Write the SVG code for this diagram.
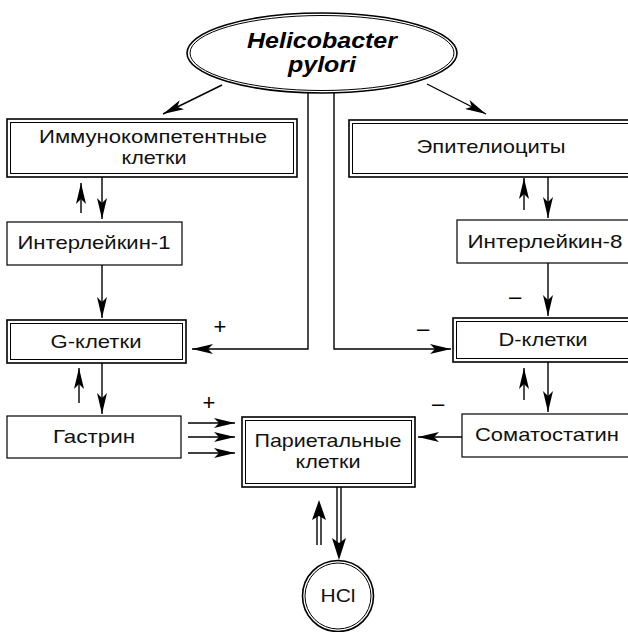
<svg xmlns="http://www.w3.org/2000/svg" width="628" height="632" viewBox="0 0 628 632">
<defs>
<marker id="ah" markerUnits="userSpaceOnUse" markerWidth="22" markerHeight="12" refX="21" refY="6" orient="auto">
<path d="M0,1 L21,6 L0,11 L5,6 z" fill="#000"/>
</marker>
</defs>
<style>
.t{font-family:"Liberation Sans",Arial,sans-serif;font-size:18.5px;fill:#111;text-anchor:middle}
.ti{font-family:"Liberation Sans",Arial,sans-serif;font-size:22px;font-weight:bold;font-style:italic;fill:#000;text-anchor:middle}
.o{fill:#fff;stroke:#000;stroke-width:1.6}
.i{fill:none;stroke:#000;stroke-width:1}
.s{fill:#fff;stroke:#000;stroke-width:1.2}
.c{fill:none;stroke:#000;stroke-width:1.4}
.a{fill:none;stroke:#000;stroke-width:1.4;marker-end:url(#ah)}
.sg{font-family:"Liberation Sans",Arial,sans-serif;font-size:22px;fill:#000;text-anchor:middle}
</style>
<rect width="628" height="632" fill="#fff"/>

<g id="connectors">
<line class="a" x1="222" y1="85" x2="163" y2="114"/>
<line class="a" x1="427" y1="84" x2="486" y2="114"/>
<path class="a" d="M308,93 V349 H192"/>
<path class="a" d="M334,93 V349 H451"/>
<line class="a" x1="81" y1="213" x2="81" y2="183"/>
<line class="a" x1="102" y1="177" x2="102" y2="219"/>
<line class="a" x1="102" y1="265" x2="102" y2="318"/>
<line class="a" x1="79" y1="403" x2="79" y2="368"/>
<line class="a" x1="102" y1="363" x2="102" y2="414"/>
<line class="a" x1="188" y1="423" x2="235" y2="423"/>
<line class="a" x1="188" y1="437" x2="235" y2="437"/>
<line class="a" x1="188" y1="453" x2="235" y2="453"/>
<line class="a" x1="524" y1="210" x2="524" y2="178"/>
<line class="a" x1="548" y1="177" x2="548" y2="218"/>
<line class="a" x1="548" y1="263" x2="548" y2="316"/>
<line class="a" x1="524" y1="400" x2="524" y2="368"/>
<line class="a" x1="548" y1="362" x2="548" y2="412"/>
<line class="a" x1="462" y1="437" x2="418" y2="437"/>
<line class="c" x1="337" y1="487" x2="337" y2="546"/>
<line class="c" x1="341" y1="487" x2="341" y2="546"/>
<path d="M332,538 L339,560 L346,538 L339,543 z" fill="#000"/>
<line class="c" x1="317" y1="545" x2="317" y2="514"/>
<line class="c" x1="321" y1="545" x2="321" y2="514"/>
<path d="M312,520 L319,500 L326,520 L319,516 z" fill="#000"/>
<text class="sg" x="220" y="334">+</text>
<text class="sg" x="209" y="410">+</text>
<text class="sg" x="423" y="336">–</text>
<text class="sg" x="438" y="411">–</text>
<text class="sg" x="515" y="304">–</text>
</g>

<g id="hp">
<ellipse class="o" cx="322" cy="53" rx="135" ry="40"/>
<ellipse class="i" cx="322" cy="53" rx="132" ry="37.5"/>
<text class="ti" x="322" y="48" textLength="150" lengthAdjust="spacingAndGlyphs">Helicobacter</text>
<text class="ti" x="322" y="72" textLength="68" lengthAdjust="spacingAndGlyphs">pylori</text>
</g>

<g id="immuno">
<rect class="o" x="7" y="119" width="290" height="58"/>
<rect class="i" x="10.5" y="122.5" width="283" height="51"/>
<text class="t" x="153" y="143" textLength="228" lengthAdjust="spacingAndGlyphs">Иммунокомпетентные</text>
<text class="t" x="154" y="164" textLength="65" lengthAdjust="spacingAndGlyphs">клетки</text>
</g>

<g id="epit">
<rect class="o" x="349" y="120" width="290" height="57"/>
<rect class="i" x="352.5" y="123.5" width="283" height="50"/>
<text class="t" x="491" y="153" textLength="149" lengthAdjust="spacingAndGlyphs">Эпителиоциты</text>
</g>

<g id="il1">
<rect class="s" x="7" y="222" width="175" height="43"/>
<text class="t" x="94" y="249" textLength="153" lengthAdjust="spacingAndGlyphs">Интерлейкин-1</text>
</g>

<g id="il8">
<rect class="s" x="457" y="220" width="180" height="43"/>
<text class="t" x="545" y="248" textLength="155" lengthAdjust="spacingAndGlyphs">Интерлейкин-8</text>
</g>

<g id="gcells">
<rect class="o" x="7" y="320" width="179" height="43"/>
<rect class="i" x="10.5" y="323.5" width="172" height="36"/>
<text class="t" x="96" y="348" textLength="91" lengthAdjust="spacingAndGlyphs">G-клетки</text>
</g>

<g id="dcells">
<rect class="o" x="453" y="318" width="190" height="44"/>
<rect class="i" x="456.5" y="321.5" width="183" height="37"/>
<text class="t" x="543" y="346" textLength="89" lengthAdjust="spacingAndGlyphs">D-клетки</text>
</g>

<g id="gastrin">
<rect class="s" x="7" y="416" width="174" height="42"/>
<text class="t" x="94" y="443" textLength="82" lengthAdjust="spacingAndGlyphs">Гастрин</text>
</g>

<g id="somat">
<rect class="s" x="462" y="414" width="180" height="43"/>
<text class="t" x="547" y="441" textLength="144" lengthAdjust="spacingAndGlyphs">Соматостатин</text>
</g>

<g id="parietal">
<rect class="o" x="242" y="417" width="173" height="70"/>
<rect class="i" x="245.5" y="420.5" width="166" height="63"/>
<text class="t" x="328" y="447" textLength="147" lengthAdjust="spacingAndGlyphs">Париетальные</text>
<text class="t" x="328" y="468" textLength="65" lengthAdjust="spacingAndGlyphs">клетки</text>
</g>

<g id="hcl">
<circle class="o" cx="338" cy="596" r="35.5"/>
<circle class="i" cx="338" cy="596" r="33"/>
<text class="t" x="338" y="602" textLength="35" lengthAdjust="spacingAndGlyphs">HCl</text>
</g>
</svg>
